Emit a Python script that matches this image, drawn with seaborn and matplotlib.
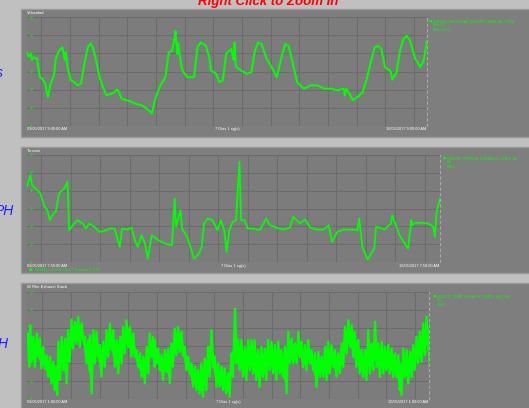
import matplotlib
matplotlib.use("Agg")
import matplotlib.pyplot as plt
from matplotlib.patches import Rectangle
import seaborn as sns

sns.set_theme(style="dark")
plt.rcParams["font.family"] = ["Liberation Sans", "DejaVu Sans"]

# ---------------- data ----------------
title_text = "Right Click to Zoom In"
side_labels = ["s", "PH", "H"]
panel_headers = ["Velocidad", "Tension", "W Rhe Exhaust Stack"]
x_labels_left = ["03/05/2017 9:00:00 AM", "03/05/2017 7:59:00 AM", "03/05/2017 1:00:00 AM"]
x_labels_mid = ["7 Días 1 sg(s)", "7 Días 1 sg(s)", "7 Días 1 sg(s)"]
x_labels_right = ["10/05/2017 9:00:00 AM", "10/05/2017 7:59:00 AM", "10/05/2017 1:00:00 AM"]
legend_texts = [
    "SENSOR_VELOCIDAD_MOTOR_LINEA_A4_TOTAL\nMin 0.0\nMax 100.0",
    "SENSOR_TENSION_BOBINADO_LINEA_A4\n0.0\n100.0",
    "SENSOR_TEMP_EXHAUST_STACK_A4_RHE\n0.0\n100.0",
]
panel2_note = "Min/Max: 03/05/2017 Tension 0..100"

y1_ticklabels = ["0", "10", "20", "30", "40", "50", "60"]
y2_ticklabels = ["0", "10", "20", "30", "40", "50", "60"]
y3_ticklabels = ["0", "10", "20", "30", "40", "50", "60"]

# panel 1 series
t1 = [0, 5, 10, 15, 20, 30, 38, 45, 55, 58, 62, 70, 80, 85, 95, 105, 112, 115, 120, 130, 140, 150,
      160, 170, 180, 188, 195, 205, 215, 225, 235, 250, 260, 265, 270, 280, 295, 310, 320, 340, 360,
      370, 380, 395, 410, 420, 430, 436, 440, 445, 448, 455, 460, 475, 495, 505, 515, 530, 540, 545,
      560, 570, 580, 590, 605, 612, 615, 618, 620, 635, 650, 665, 675, 685, 695, 710, 725, 740, 755,
      765, 775, 790, 800, 820, 840, 860, 880, 900, 920, 938, 942, 946, 955, 965, 980, 995, 1005, 1015,
      1030, 1040, 1050, 1060, 1075, 1078, 1082, 1095, 1105, 1115, 1125, 1135, 1150, 1160, 1165, 1175, 1185]
v1 = [223, 210, 218, 200, 208, 203, 148, 143, 128, 103, 88, 128, 153, 203, 228, 238, 200, 223, 178, 138,
      133, 123, 128, 188, 238, 250, 238, 198, 148, 118, 93, 98, 103, 110, 108, 83, 78, 73, 68, 63, 48,
      38, 83, 123, 148, 223, 228, 260, 288, 218, 250, 198, 168, 148, 148, 238, 253, 243, 208, 168, 158,
      133, 138, 218, 233, 200, 253, 190, 178, 168, 158, 163, 228, 253, 248, 203, 178, 148, 213, 248,
      243, 178, 133, 113, 123, 123, 113, 113, 108, 113, 93, 113, 98, 78, 88, 103, 138, 178, 238, 243,
      233, 178, 168, 163, 140, 163, 228, 263, 273, 258, 203, 188, 178, 198, 258]

# panel 2 series
t2 = [0, 10, 15, 30, 40, 50, 60, 68, 75, 85, 95, 110, 120, 125, 140, 150, 165, 175, 185, 200, 215, 230,
      245, 260, 275, 282, 300, 310, 320, 328, 340, 350, 358, 370, 390, 410, 430, 438, 442, 455, 460,
      475, 485, 495, 510, 518, 525, 535, 550, 565, 575, 585, 592, 600, 610, 620, 630, 635, 645, 655,
      670, 690, 710, 720, 740, 760, 780, 790, 800, 810, 825, 840, 860, 880, 895, 905, 920, 940, 965,
      980, 985, 995, 1010, 1030, 1035, 1045, 1060, 1080, 1083, 1105, 1130, 1140, 1143, 1150, 1170,
      1190, 1205, 1210, 1215, 1225]
v2 = [225, 260, 230, 215, 205, 170, 155, 125, 140, 150, 205, 220, 240, 95, 115, 125, 115, 100, 115, 105,
      90, 93, 100, 100, 45, 100, 97, 103, 65, 45, 80, 55, 10, 80, 65, 55, 50, 190, 105, 155, 100, 75,
      45, 10, 25, 45, 115, 130, 125, 95, 125, 95, 30, 95, 120, 125, 300, 125, 125, 100, 100, 95, 130,
      110, 103, 97, 103, 135, 125, 115, 127, 103, 97, 97, 110, 60, 90, 97, 97, 95, 130, 45, 7, 40, 105,
      103, 97, 115, 140, 80, 40, 125, 110, 117, 117, 115, 105, 75, 150, 190]

# panel 3: upper and lower edge of the dense, noisy trace
t3 = [2, 9, 19, 29, 38, 48, 58, 68, 78, 85, 93, 103, 113, 122, 132, 142, 152, 162, 172, 182, 187, 197,
      206, 216, 226, 236, 246, 256, 266, 276, 285, 295, 305, 315, 325, 335, 345, 355, 364, 374,
      379, 389, 399, 409, 419, 428, 438, 448, 458, 468, 478, 488, 498, 507, 517, 527, 537, 547, 557,
      567, 577, 586, 596, 606, 617, 626, 636, 646, 656, 666, 675, 685, 695, 705, 715, 725, 735, 745, 754,
      765, 775, 785, 795, 805, 814, 824, 834, 844, 854, 864, 874, 884, 893, 903, 913, 923, 933, 943,
      953, 963, 972, 982, 992, 1002, 1012, 1022, 1032, 1042, 1052, 1061, 1071, 1081, 1091, 1101, 1106,
      1116, 1126, 1136, 1145, 1155, 1165, 1175, 1185, 1190]
hi3 = [197, 222, 187, 197, 182, 157, 132, 127, 112, 97, 172, 187, 182, 207, 239, 232, 247, 227, 187, 177,
       192, 207, 202, 162, 172, 207, 227, 207, 177, 187, 217, 237, 217, 197, 147, 137, 127, 157, 197, 187,
       177, 152, 132, 147, 152, 167, 212, 217, 202, 157, 127, 107, 97, 87, 107, 122, 157, 207, 127,
       107, 97, 92, 77, 137, 272, 177, 177, 157, 177, 177, 177, 147, 157, 152, 177, 172, 162, 172, 147,
       157, 202, 182, 167, 202, 172, 162, 177, 147, 137, 142, 127, 157, 172, 162, 147, 137, 167, 217,
       237, 222, 202, 177, 147, 147, 207, 167, 232, 167, 172, 157, 162, 152, 137, 132, 107,
       152, 147, 142, 162, 187, 202, 227, 247, 212]
lo3 = [97, 112, 97, 127, 92, 92, 67, 47, 27, 12, 57, 87, 47, 112, 152, 167, 157, 177, 107, 82,
       17, 107, 127, 67, 97, 127, 147, 97, 77, 107, 137, 157, 127, 127, 97, 67, 47, 77, 127, 97,
       107, 87, 57, 82, 47, 97, 132, 142, 132, 87, 77, 37, 27, 17, 7, 27, 67, 97, 37,
       37, 27, 17, 7, 67, 107, 87, 67, 57, 87, 77, 57, 37, 67, 57, 87, 77, 57, 77, 67,
       17, 107, 107, 107, 127, 97, 87, 107, 87, 37, 67, 67, 57, 77, 97, 67, 77, 97, 137,
       157, 127, 97, 77, 67, 57, 77, 87, 97, 67, 77, 87, 77, 67, 67, 27, 12,
       67, 47, 67, 87, 107, 112, 132, 147, 87]

# ---------------- figure ----------------
W, H = 529, 408
fig = plt.figure(figsize=(W / 100, H / 100), dpi=100, facecolor="#c0c0c0")

def fx(px):
    return px / W

def fy(py):
    return 1 - py / H

panel_boxes = [(21, 9.5, 137), (21, 147, 273), (21, 283, 409)]
for (l, top, bot) in panel_boxes:
    fig.add_artist(Rectangle((fx(l), fy(bot)), 1.0, (bot - top) / H, transform=fig.transFigure,
                             facecolor="#7e7e7e", edgecolor="#9a9a9a", linewidth=1.0, zorder=0))

axes_boxes = [(27, 427, 17, 126), (27, 440, 155, 262), (27, 429, 292, 399)]
GREEN = "#00ff00"

def make_axes(box):
    l, r, t, b = box
    ax = fig.add_axes([fx(l), fy(b), (r - l) / W, (b - t) / H])
    ax.set_facecolor("#7c7c7c")
    for s in ["top", "left", "bottom"]:
        ax.spines[s].set_visible(False)
    ax.spines["right"].set_color("#a8a8a8")
    ax.spines["right"].set_linestyle((0, (2, 3)))
    ax.spines["right"].set_linewidth(0.8)
    return ax

def style(ax, xmax, ymax, xg0, xgs, ylabels):
    ax.set_xlim(0, xmax)
    ax.set_ylim(0, ymax)
    xt = []
    g = xg0
    while g < xmax - 5:
        xt.append(g)
        g += xgs
    ax.set_xticks(xt)
    ax.set_xticklabels([])
    yt = [ymax * i / 6 for i in range(7)]
    ax.set_yticks(yt)
    ax.set_yticklabels(ylabels)
    ax.tick_params(axis="x", length=0)
    ax.tick_params(axis="y", length=0, pad=-2, labelsize=2.8, labelcolor=GREEN)
    for lb in ax.get_yticklabels():
        lb.set_ha("left")
    ax.grid(True, color="#6c6c6c", linewidth=0.8)
    ax.set_xlabel("")
    ax.set_ylabel("")

# panel 1
ax1 = make_axes(axes_boxes[0])
sns.lineplot(x=t1, y=v1, ax=ax1, color=GREEN, linewidth=1.5, estimator=None, sort=False)
style(ax1, 1185, 330, 42, 85, y1_ticklabels)

# panel 2
ax2 = make_axes(axes_boxes[1])
sns.lineplot(x=t2, y=v2, ax=ax2, color=GREEN, linewidth=1.3, estimator=None, sort=False)
style(ax2, 1225, 320, 42, 87.5, y2_ticklabels)

# panel 3: dense trace drawn as a zigzag between its upper and lower edges
ax3 = make_axes(axes_boxes[2])
zx, zy = [], []
for i in range(len(t3)):
    zx += [t3[i], t3[i] + 4.5]
    zy += [hi3[i], lo3[i]]
sns.lineplot(x=zx, y=zy, ax=ax3, color=GREEN, linewidth=1.7, estimator=None, sort=False)
core_lo = [lo3[i] + 0.2 * (hi3[i] - lo3[i]) for i in range(len(t3))]
core_hi = [hi3[i] - 0.2 * (hi3[i] - lo3[i]) for i in range(len(t3))]
ax3.fill_between(t3, core_lo, core_hi, color=GREEN, linewidth=0)
style(ax3, 1192, 322, 45, 85, y3_ticklabels)

axes = [ax1, ax2, ax3]
header_y = [12.5, 150.5, 286.5]
xlab_y = [129, 266, 402]
legend_y = [19, 156, 294]
legend_x = [429, 443, 433]
for i, ax in enumerate(axes):
    l, r, t, b = axes_boxes[i]
    fig.text(fx(l), fy(header_y[i]), panel_headers[i], fontsize=3.0, color="white",
             va="center", ha="left")
    fig.text(fx(l), fy(xlab_y[i]), x_labels_left[i], fontsize=2.8, color="white", va="center", ha="left")
    fig.text(fx((l + r) / 2), fy(xlab_y[i]), x_labels_mid[i], fontsize=2.8, color="white",
             va="center", ha="center")
    fig.text(fx(r - 1), fy(xlab_y[i]), x_labels_right[i], fontsize=2.8, color="white",
             va="center", ha="right")
    fig.text(fx(legend_x[i]), fy(legend_y[i]), "■", fontsize=2.5, color=GREEN, va="top", ha="left",
             family=["DejaVu Sans"])
    fig.text(fx(legend_x[i] + 4), fy(legend_y[i]), legend_texts[i], fontsize=2.5, color=GREEN,
             va="top", ha="left", linespacing=1.1)

fig.text(fx(29), fy(270), "■  " + panel2_note, fontsize=2.6, color=GREEN, va="center", ha="left",
         family=["DejaVu Sans"])

# title and side labels (partly outside the window, as in the screenshot)
fig.text(fx(268), fy(4.5), title_text, fontsize=9.5, color="#ff0000", fontweight="bold",
         fontstyle="italic", ha="center", va="baseline")
side_pos = [(3, 73), (14, 211), (8, 344)]
for (sx, sy), s in zip(side_pos, side_labels):
    fig.text(fx(sx), fy(sy), s, fontsize=10, color="#2020ff", fontstyle="italic",
             ha="right", va="center")

fig.savefig("out.png", dpi=100, facecolor=fig.get_facecolor())
